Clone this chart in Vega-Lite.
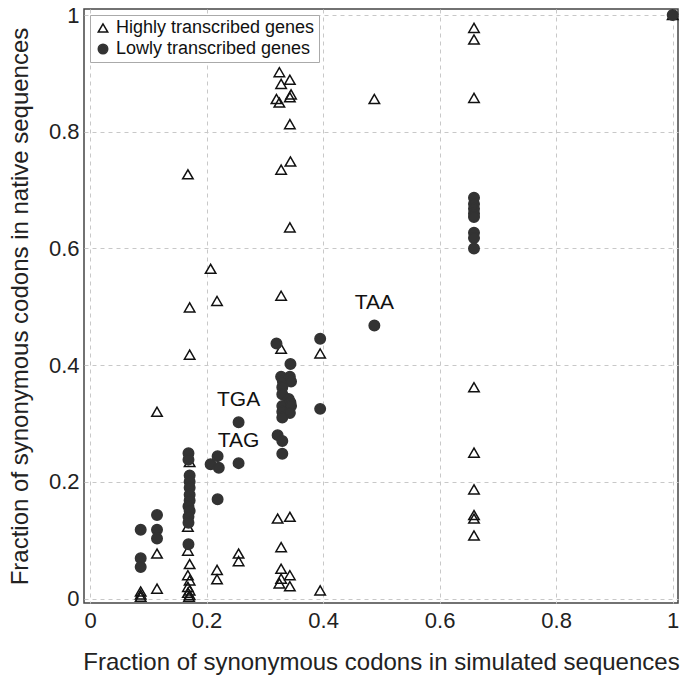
{
  "$schema": "https://vega.github.io/schema/vega-lite/v6.json",
  "width": 594,
  "height": 594,
  "autosize": "none",
  "padding": {"left": 84, "top": 9, "right": 5, "bottom": 78},
  "background": "white",
  "config": {
    "font": "Liberation Sans",
    "view": {"stroke": "#444", "strokeWidth": 1.5},
    "axis": {
      "grid": true, "gridColor": "#c8c8c8", "gridDash": [4, 4], "gridWidth": 1,
      "domain": false, "ticks": false,
      "labelFontSize": 22, "labelColor": "#222", "labelFont": "Liberation Sans",
      "titleFontSize": 24, "titleFontWeight": "normal", "titleColor": "#222", "titleFont": "Liberation Sans"
    },
    "legend": {"labelLimit": 0}
  },
  "data": {"values": [
    {"g": "Highly transcribed genes", "x": 0.087, "y": 0.012},
    {"g": "Highly transcribed genes", "x": 0.087, "y": 0.007},
    {"g": "Highly transcribed genes", "x": 0.087, "y": 0.003},
    {"g": "Highly transcribed genes", "x": 0.115, "y": 0.32},
    {"g": "Highly transcribed genes", "x": 0.115, "y": 0.077},
    {"g": "Highly transcribed genes", "x": 0.115, "y": 0.017},
    {"g": "Highly transcribed genes", "x": 0.168, "y": 0.727},
    {"g": "Highly transcribed genes", "x": 0.171, "y": 0.499},
    {"g": "Highly transcribed genes", "x": 0.171, "y": 0.418},
    {"g": "Highly transcribed genes", "x": 0.171, "y": 0.234},
    {"g": "Highly transcribed genes", "x": 0.168, "y": 0.123},
    {"g": "Highly transcribed genes", "x": 0.168, "y": 0.082},
    {"g": "Highly transcribed genes", "x": 0.171, "y": 0.059},
    {"g": "Highly transcribed genes", "x": 0.168, "y": 0.04},
    {"g": "Highly transcribed genes", "x": 0.171, "y": 0.031},
    {"g": "Highly transcribed genes", "x": 0.168, "y": 0.02},
    {"g": "Highly transcribed genes", "x": 0.171, "y": 0.014},
    {"g": "Highly transcribed genes", "x": 0.168, "y": 0.01},
    {"g": "Highly transcribed genes", "x": 0.171, "y": 0.006},
    {"g": "Highly transcribed genes", "x": 0.17, "y": 0.003},
    {"g": "Highly transcribed genes", "x": 0.207, "y": 0.565},
    {"g": "Highly transcribed genes", "x": 0.218, "y": 0.51},
    {"g": "Highly transcribed genes", "x": 0.218, "y": 0.049},
    {"g": "Highly transcribed genes", "x": 0.218, "y": 0.033},
    {"g": "Highly transcribed genes", "x": 0.255, "y": 0.077},
    {"g": "Highly transcribed genes", "x": 0.255, "y": 0.064},
    {"g": "Highly transcribed genes", "x": 0.325, "y": 0.902},
    {"g": "Highly transcribed genes", "x": 0.343, "y": 0.889},
    {"g": "Highly transcribed genes", "x": 0.328, "y": 0.882},
    {"g": "Highly transcribed genes", "x": 0.32, "y": 0.856},
    {"g": "Highly transcribed genes", "x": 0.343, "y": 0.859},
    {"g": "Highly transcribed genes", "x": 0.345, "y": 0.864},
    {"g": "Highly transcribed genes", "x": 0.325, "y": 0.85},
    {"g": "Highly transcribed genes", "x": 0.343, "y": 0.813},
    {"g": "Highly transcribed genes", "x": 0.344, "y": 0.749},
    {"g": "Highly transcribed genes", "x": 0.328, "y": 0.735},
    {"g": "Highly transcribed genes", "x": 0.343, "y": 0.636},
    {"g": "Highly transcribed genes", "x": 0.328, "y": 0.519},
    {"g": "Highly transcribed genes", "x": 0.328, "y": 0.428},
    {"g": "Highly transcribed genes", "x": 0.322, "y": 0.137},
    {"g": "Highly transcribed genes", "x": 0.343, "y": 0.14},
    {"g": "Highly transcribed genes", "x": 0.328, "y": 0.088},
    {"g": "Highly transcribed genes", "x": 0.328, "y": 0.051},
    {"g": "Highly transcribed genes", "x": 0.343, "y": 0.04},
    {"g": "Highly transcribed genes", "x": 0.328, "y": 0.034},
    {"g": "Highly transcribed genes", "x": 0.325, "y": 0.026},
    {"g": "Highly transcribed genes", "x": 0.343, "y": 0.021},
    {"g": "Highly transcribed genes", "x": 0.395, "y": 0.42},
    {"g": "Highly transcribed genes", "x": 0.395, "y": 0.014},
    {"g": "Highly transcribed genes", "x": 0.488, "y": 0.856},
    {"g": "Highly transcribed genes", "x": 0.659, "y": 0.978},
    {"g": "Highly transcribed genes", "x": 0.659, "y": 0.958},
    {"g": "Highly transcribed genes", "x": 0.659, "y": 0.858},
    {"g": "Highly transcribed genes", "x": 0.659, "y": 0.362},
    {"g": "Highly transcribed genes", "x": 0.659, "y": 0.25},
    {"g": "Highly transcribed genes", "x": 0.659, "y": 0.187},
    {"g": "Highly transcribed genes", "x": 0.659, "y": 0.143},
    {"g": "Highly transcribed genes", "x": 0.659, "y": 0.137},
    {"g": "Highly transcribed genes", "x": 0.659, "y": 0.108},
    {"g": "Highly transcribed genes", "x": 1.0, "y": 1.0},
    {"g": "Lowly transcribed genes", "x": 0.087, "y": 0.118},
    {"g": "Lowly transcribed genes", "x": 0.087, "y": 0.069},
    {"g": "Lowly transcribed genes", "x": 0.087, "y": 0.054},
    {"g": "Lowly transcribed genes", "x": 0.115, "y": 0.143},
    {"g": "Lowly transcribed genes", "x": 0.115, "y": 0.118},
    {"g": "Lowly transcribed genes", "x": 0.115, "y": 0.103},
    {"g": "Lowly transcribed genes", "x": 0.169, "y": 0.249},
    {"g": "Lowly transcribed genes", "x": 0.169, "y": 0.238},
    {"g": "Lowly transcribed genes", "x": 0.171, "y": 0.211},
    {"g": "Lowly transcribed genes", "x": 0.171, "y": 0.2},
    {"g": "Lowly transcribed genes", "x": 0.171, "y": 0.19},
    {"g": "Lowly transcribed genes", "x": 0.171, "y": 0.178},
    {"g": "Lowly transcribed genes", "x": 0.171, "y": 0.168},
    {"g": "Lowly transcribed genes", "x": 0.169, "y": 0.158},
    {"g": "Lowly transcribed genes", "x": 0.171, "y": 0.15},
    {"g": "Lowly transcribed genes", "x": 0.169, "y": 0.14},
    {"g": "Lowly transcribed genes", "x": 0.169, "y": 0.13},
    {"g": "Lowly transcribed genes", "x": 0.169, "y": 0.093},
    {"g": "Lowly transcribed genes", "x": 0.207, "y": 0.23},
    {"g": "Lowly transcribed genes", "x": 0.219, "y": 0.244},
    {"g": "Lowly transcribed genes", "x": 0.221, "y": 0.224},
    {"g": "Lowly transcribed genes", "x": 0.219, "y": 0.17},
    {"g": "Lowly transcribed genes", "x": 0.255, "y": 0.302, "label": "TGA"},
    {"g": "Lowly transcribed genes", "x": 0.255, "y": 0.232, "label": "TAG"},
    {"g": "Lowly transcribed genes", "x": 0.32, "y": 0.437},
    {"g": "Lowly transcribed genes", "x": 0.328, "y": 0.38},
    {"g": "Lowly transcribed genes", "x": 0.331, "y": 0.372},
    {"g": "Lowly transcribed genes", "x": 0.33, "y": 0.362},
    {"g": "Lowly transcribed genes", "x": 0.344, "y": 0.402},
    {"g": "Lowly transcribed genes", "x": 0.343, "y": 0.38},
    {"g": "Lowly transcribed genes", "x": 0.345, "y": 0.372},
    {"g": "Lowly transcribed genes", "x": 0.33, "y": 0.35},
    {"g": "Lowly transcribed genes", "x": 0.341, "y": 0.342},
    {"g": "Lowly transcribed genes", "x": 0.344, "y": 0.336},
    {"g": "Lowly transcribed genes", "x": 0.33, "y": 0.33},
    {"g": "Lowly transcribed genes", "x": 0.345, "y": 0.33},
    {"g": "Lowly transcribed genes", "x": 0.33, "y": 0.32},
    {"g": "Lowly transcribed genes", "x": 0.343, "y": 0.318},
    {"g": "Lowly transcribed genes", "x": 0.33, "y": 0.31},
    {"g": "Lowly transcribed genes", "x": 0.322, "y": 0.28},
    {"g": "Lowly transcribed genes", "x": 0.33, "y": 0.27},
    {"g": "Lowly transcribed genes", "x": 0.33, "y": 0.248},
    {"g": "Lowly transcribed genes", "x": 0.395, "y": 0.445},
    {"g": "Lowly transcribed genes", "x": 0.395, "y": 0.325},
    {"g": "Lowly transcribed genes", "x": 0.488, "y": 0.468, "label": "TAA"},
    {"g": "Lowly transcribed genes", "x": 0.659, "y": 0.687},
    {"g": "Lowly transcribed genes", "x": 0.659, "y": 0.676},
    {"g": "Lowly transcribed genes", "x": 0.659, "y": 0.668},
    {"g": "Lowly transcribed genes", "x": 0.659, "y": 0.66},
    {"g": "Lowly transcribed genes", "x": 0.659, "y": 0.654},
    {"g": "Lowly transcribed genes", "x": 0.659, "y": 0.627},
    {"g": "Lowly transcribed genes", "x": 0.659, "y": 0.618},
    {"g": "Lowly transcribed genes", "x": 0.659, "y": 0.6},
    {"g": "Lowly transcribed genes", "x": 1.0, "y": 1.0}
  ]},
  "layer": [
    {
      "mark": {"type": "point", "size": 110, "strokeWidth": 1.5, "opacity": 1},
      "encoding": {
        "x": {"field": "x", "type": "quantitative",
              "scale": {"domain": [-0.0103, 1.0091], "nice": false, "zero": false},
              "axis": {"values": [0, 0.2, 0.4, 0.6, 0.8, 1], "format": "~g", "labelPadding": 7, "titlePadding": 19,
                       "title": "Fraction of synonymous codons in simulated sequences"}},
        "y": {"field": "y", "type": "quantitative",
              "scale": {"domain": [-0.0077, 1.0103], "nice": false, "zero": false},
              "axis": {"values": [0, 0.2, 0.4, 0.6, 0.8, 1], "format": "~g", "labelPadding": 5, "titlePadding": 16,
                       "title": "Fraction of synonymous codons in native sequences"}},
        "shape": {"field": "g", "type": "nominal",
                  "scale": {"domain": ["Highly transcribed genes", "Lowly transcribed genes"], "range": ["triangle-up", "circle"]},
                  "legend": {"title": null, "orient": "top-left", "offset": 6, "labelFontSize": 18, "labelColor": "#111",
                             "symbolSize": 90, "symbolStrokeWidth": 1.5, "rowPadding": 3, "padding": 4, "labelLimit": 0,
                             "strokeColor": "#aaa", "labelFont": "Liberation Sans", "fillColor": "white",
                             "encode": {"legend": {"update": {"strokeDash": {"value": [3, 3]}}}}}},
        "fill": {"field": "g", "type": "nominal",
                 "scale": {"domain": ["Highly transcribed genes", "Lowly transcribed genes"], "range": ["transparent", "#333333"]},
                 "legend": {"title": null, "orient": "top-left", "offset": 6, "labelFontSize": 18, "labelColor": "#111",
                            "symbolSize": 90, "symbolStrokeWidth": 1.5, "rowPadding": 3, "padding": 4, "labelLimit": 0,
                            "strokeColor": "#aaa", "labelFont": "Liberation Sans", "fillColor": "white",
                            "encode": {"legend": {"update": {"strokeDash": {"value": [3, 3]}}}}}},
        "stroke": {"field": "g", "type": "nominal",
                   "scale": {"domain": ["Highly transcribed genes", "Lowly transcribed genes"], "range": ["#111111", "#333333"]},
                   "legend": {"title": null, "orient": "top-left", "offset": 6, "labelFontSize": 18, "labelColor": "#111",
                              "symbolSize": 90, "symbolStrokeWidth": 1.5, "rowPadding": 3, "padding": 4, "labelLimit": 0,
                              "strokeColor": "#aaa", "labelFont": "Liberation Sans", "fillColor": "white",
                              "encode": {"legend": {"update": {"strokeDash": {"value": [3, 3]}}}}}}
      }
    },
    {
      "transform": [{"filter": "datum.label != null"}],
      "mark": {"type": "text", "dy": -22, "fontSize": 21, "color": "#111", "font": "Liberation Sans"},
      "encoding": {
        "x": {"field": "x", "type": "quantitative"},
        "y": {"field": "y", "type": "quantitative"},
        "text": {"field": "label"}
      }
    }
  ]
}
